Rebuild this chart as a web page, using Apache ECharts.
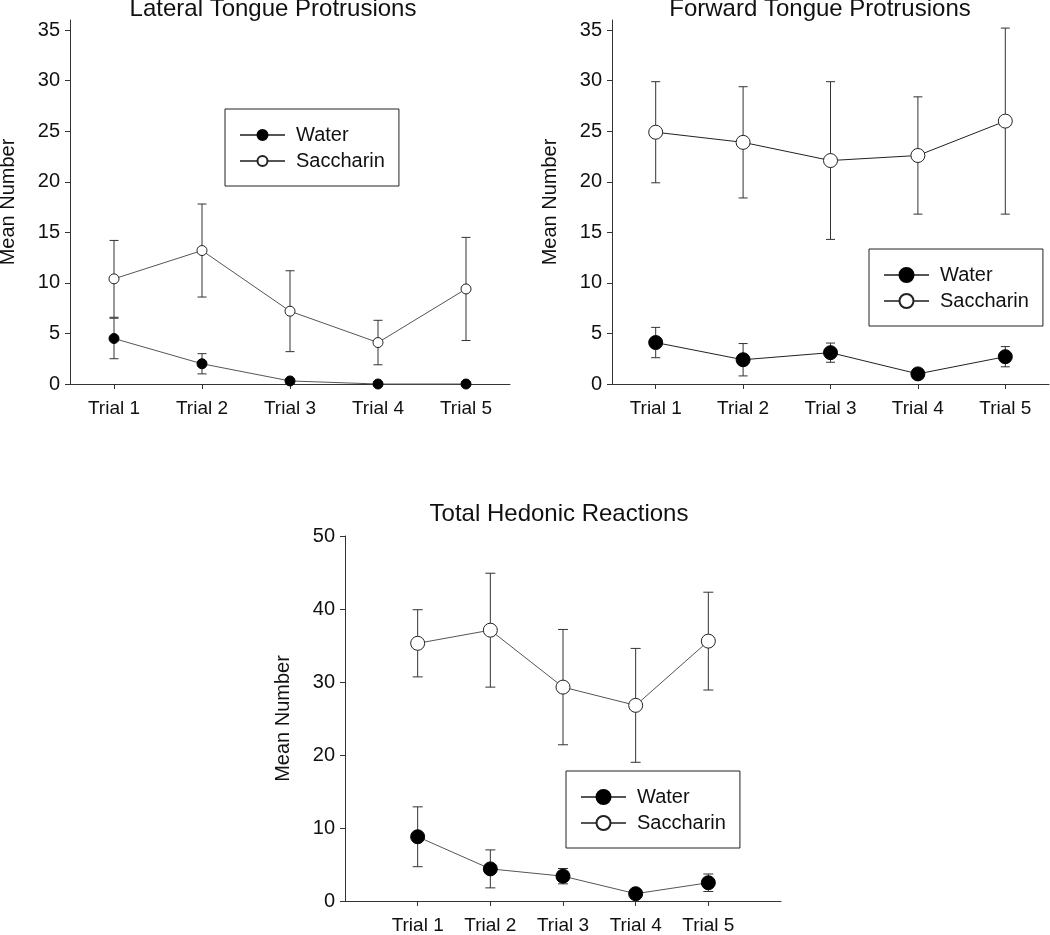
<!DOCTYPE html>
<html><head><meta charset="utf-8">
<script src="https://cdn.jsdelivr.net/npm/echarts@6/dist/echarts.min.js"></script>
<style>html,body{margin:0;padding:0;background:#fff}#c{width:1050px;height:935px}</style>
</head><body><div id="c"></div>
<script>
const trials = ['Trial 1', 'Trial 2', 'Trial 3', 'Trial 4', 'Trial 5'];
const panelTitles = ['Lateral Tongue Protrusions', 'Forward Tongue Protrusions', 'Total Hedonic Reactions'];
const seriesNames = ['Water', 'Saccharin'];
const yAxisName = 'Mean Number';

const lateralWater = [4.5, 2.0, 0.3, 0, 0];
const lateralWaterSem = [2.0, 1.0, 0, 0, 0];
const lateralSac = [10.4, 13.2, 7.2, 4.1, 9.4];
const lateralSacSem = [3.8, 4.6, 4.0, 2.2, 5.1];

const forwardWater = [4.1, 2.4, 3.1, 1.0, 2.7];
const forwardWaterSem = [1.5, 1.6, 0.95, 0, 1.0];
const forwardSac = [24.9, 23.9, 22.1, 22.6, 26.0];
const forwardSacSem = [5.0, 5.5, 7.8, 5.8, 9.2];

const totalWater = [8.8, 4.4, 3.4, 1.0, 2.5];
const totalWaterSem = [4.1, 2.6, 1.05, 0, 1.2];
const totalSac = [35.3, 37.1, 29.3, 26.8, 35.6];
const totalSacSem = [4.6, 7.8, 7.9, 7.8, 6.7];

const yTicksTop = [0, 5, 10, 15, 20, 25, 30, 35];
const yTicksBottom = [0, 10, 20, 30, 40, 50];
const xPositionsBottom = [1, 2, 3, 4, 5];

const FONT = '"Liberation Sans", Arial, sans-serif';
const TXT = '#111';
const AX = '#333';

function errRender(cap) {
  return function (params, api) {
    const x = api.value(0), lo = api.value(1), hi = api.value(2);
    const p1 = api.coord([x, hi]), p2 = api.coord([x, lo]);
    const st = { stroke: '#333', lineWidth: 1 };
    return {
      type: 'group', children: [
        { type: 'line', shape: { x1: p1[0], y1: p1[1], x2: p2[0], y2: p2[1] }, style: st },
        { type: 'line', shape: { x1: p1[0] - cap, y1: p1[1], x2: p1[0] + cap, y2: p1[1] }, style: st },
        { type: 'line', shape: { x1: p2[0] - cap, y1: p2[1], x2: p2[0] + cap, y2: p2[1] }, style: st }
      ]
    };
  };
}
function errData(means, sems, xs) {
  const out = [];
  means.forEach((m, i) => { if (sems[i] > 0) out.push([xs ? xs[i] : i, m - sems[i], m + sems[i]]); });
  return out;
}

function yAxis(gi, max, ticks) {
  return {
    type: 'value', gridIndex: gi, min: 0, max: max,
    name: yAxisName, nameLocation: 'middle', nameGap: 52, nameRotate: 90,
    nameTextStyle: { fontFamily: FONT, fontSize: 20, color: TXT },
    axisLine: { show: true, lineStyle: { color: AX, width: 1 } },
    axisTick: { show: true, length: 5, lineStyle: { color: AX }, customValues: ticks },
    axisLabel: { fontFamily: FONT, fontSize: 20, color: TXT, margin: 10, customValues: ticks },
    splitLine: { show: false }
  };
}
const xLabel = { fontFamily: FONT, fontSize: 19, color: TXT, margin: 15 };
const xLine = { show: true, onZero: false, lineStyle: { color: AX, width: 1 } };

function lineSeries(name, data, xi, yi, size, filled, lineColor) {
  return {
    type: 'line', name: name, xAxisIndex: xi, yAxisIndex: yi, data: data,
    symbol: 'circle', symbolSize: size, showSymbol: true, clip: false, z: 3,
    lineStyle: { color: lineColor, width: 1 },
    itemStyle: filled ? { color: '#000', borderColor: '#000', borderWidth: 1 } : { color: '#fff', borderColor: '#222', borderWidth: 1 },
    emphasis: { disabled: true }
  };
}
function errSeries(data, xi, yi, cap) {
  return {
    type: 'custom', name: 'err', xAxisIndex: xi, yAxisIndex: yi, data: data,
    renderItem: errRender(cap), encode: { x: 0, y: [1, 2] }, z: 2, clip: false, silent: true
  };
}
function legend(left, top, ih) {
  return {
    orient: 'vertical', left: left, top: top, data: seriesNames,
    itemWidth: 45, itemHeight: ih, itemGap: 6,
    padding: [16, 14, 15, 14], borderColor: '#222', borderWidth: 1,
    textStyle: { fontFamily: FONT, fontSize: 20, color: TXT, padding: [0, 0, 0, 6] },
    selectedMode: false
  };
}

const bottomX = xPositionsBottom;
const option = {
  animation: false,
  backgroundColor: '#fff',
  title: [
    { text: panelTitles[0], left: 273, top: -3, textAlign: 'center', padding: 0, textStyle: { fontFamily: FONT, fontSize: 24, fontWeight: 'normal', color: TXT } },
    { text: panelTitles[1], left: 820, top: -3, textAlign: 'center', padding: 0, textStyle: { fontFamily: FONT, fontSize: 24, fontWeight: 'normal', color: TXT } },
    { text: panelTitles[2], left: 559, top: 502, textAlign: 'center', padding: 0, textStyle: { fontFamily: FONT, fontSize: 24, fontWeight: 'normal', color: TXT } }
  ],
  grid: [
    { left: 70, top: 20, width: 440, height: 364, outerBoundsMode: 'none', containLabel: false },
    { left: 612, top: 20, width: 437, height: 364, outerBoundsMode: 'none', containLabel: false },
    { left: 345, top: 536, width: 436, height: 365, outerBoundsMode: 'none', containLabel: false }
  ],
  legend: [legend(225, 109, 12.5), legend(869, 249, 17.5), legend(566, 771, 17.5)],
  xAxis: [
    { type: 'category', gridIndex: 0, data: trials, boundaryGap: true, axisLine: xLine,
      axisTick: { show: true, alignWithLabel: true, length: 5, lineStyle: { color: AX } }, axisLabel: xLabel, splitLine: { show: false } },
    { type: 'category', gridIndex: 1, data: trials, boundaryGap: true, axisLine: xLine,
      axisTick: { show: true, alignWithLabel: true, length: 5, lineStyle: { color: AX } }, axisLabel: xLabel, splitLine: { show: false } },
    { type: 'value', gridIndex: 2, min: 0, max: bottomX.length + 1, axisLine: xLine,
      axisTick: { show: true, length: 5, lineStyle: { color: AX }, customValues: bottomX },
      axisLabel: Object.assign({}, xLabel, { customValues: bottomX, formatter: v => trials[v - 1] || '' }),
      splitLine: { show: false } }
  ],
  yAxis: [yAxis(0, 36, yTicksTop), yAxis(1, 36, yTicksTop), yAxis(2, 50, yTicksBottom)],
  series: [
    errSeries(errData(lateralSac, lateralSacSem), 0, 0, 4.5),
    errSeries(errData(lateralWater, lateralWaterSem), 0, 0, 4.5),
    lineSeries(seriesNames[0], lateralWater, 0, 0, 10, true, '#555'),
    lineSeries(seriesNames[1], lateralSac, 0, 0, 10, false, '#555'),

    errSeries(errData(forwardSac, forwardSacSem), 1, 1, 4.5),
    errSeries(errData(forwardWater, forwardWaterSem), 1, 1, 4.5),
    lineSeries(seriesNames[0], forwardWater, 1, 1, 14, true, '#222'),
    lineSeries(seriesNames[1], forwardSac, 1, 1, 14, false, '#222'),

    errSeries(errData(totalSac, totalSacSem, bottomX), 2, 2, 5),
    errSeries(errData(totalWater, totalWaterSem, bottomX), 2, 2, 5),
    lineSeries(seriesNames[0], totalWater.map((v, i) => [bottomX[i], v]), 2, 2, 14, true, '#555'),
    lineSeries(seriesNames[1], totalSac.map((v, i) => [bottomX[i], v]), 2, 2, 14, false, '#555')
  ]
};
const chart = echarts.init(document.getElementById('c'), null, { renderer: 'canvas' });
chart.setOption(option);
</script>
</body></html>
